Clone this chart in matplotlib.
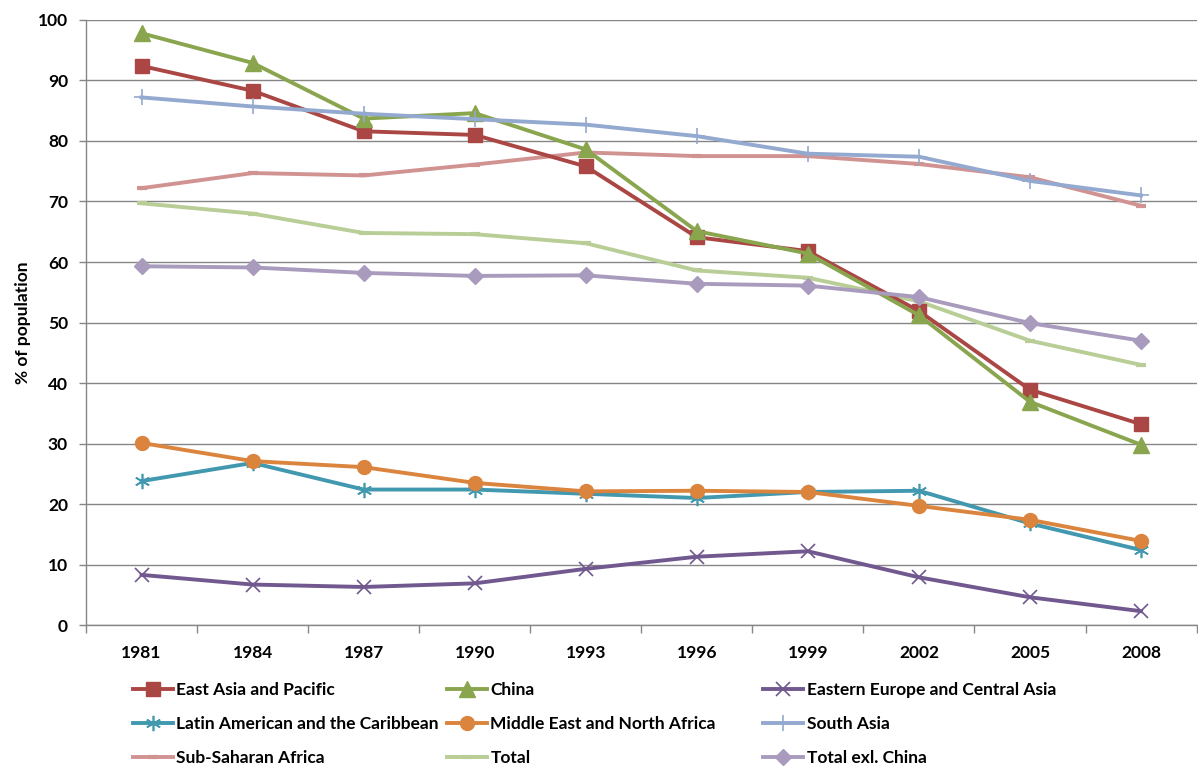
import matplotlib.pyplot as plt

plt.rcParams['font.family'] = ['Lato', 'DejaVu Sans']
plt.rcParams['font.weight'] = 'bold'

years = ['1981', '1984', '1987', '1990', '1993', '1996', '1999', '2002', '2005', '2008']

east_asia = [92.4, 88.3, 81.6, 81.0, 75.8, 64.1, 61.8, 51.9, 38.9, 33.2]
china = [97.8, 92.9, 83.7, 84.6, 78.6, 65.1, 61.4, 51.2, 36.9, 29.8]
eastern_europe = [8.3, 6.7, 6.3, 6.9, 9.3, 11.3, 12.2, 7.9, 4.6, 2.3]
latin_america = [23.8, 26.8, 22.4, 22.4, 21.7, 21.0, 22.0, 22.2, 16.8, 12.4]
middle_east = [30.1, 27.1, 26.1, 23.5, 22.1, 22.2, 22.0, 19.7, 17.4, 13.9]
south_asia = [87.2, 85.7, 84.5, 83.6, 82.7, 80.8, 77.9, 77.4, 73.4, 71.0]
sub_saharan = [72.2, 74.7, 74.3, 76.1, 78.1, 77.5, 77.5, 76.2, 74.0, 69.3]
total = [69.7, 68.0, 64.8, 64.6, 63.1, 58.6, 57.4, 53.5, 47.0, 43.0]
total_ex_china = [59.3, 59.1, 58.2, 57.7, 57.8, 56.4, 56.1, 54.2, 49.9, 47.0]

fig = plt.figure(figsize=(11.98, 7.67), dpi=100)
ax = fig.add_axes([0.0718, 0.185, 0.927, 0.789])

x = list(range(len(years)))
lw = 2.8

ax.plot(x, east_asia, color='#AA4643', lw=lw, marker='s', ms=10, label='East Asia and Pacific', zorder=5)
ax.plot(x, china, color='#89A54E', lw=lw, marker='^', ms=11, label='China', zorder=5)
ax.plot(x, eastern_europe, color='#71588F', lw=lw, marker='x', ms=10, mew=1.2, label='Eastern Europe and Central Asia', zorder=5)
ax.plot(x, latin_america, color='#4198AF', lw=lw, marker=(6, 2, 0), ms=11, mew=1.2, label='Latin American and the Caribbean', zorder=5)
ax.plot(x, middle_east, color='#DB843D', lw=lw, marker='o', ms=10, label='Middle East and North Africa', zorder=5)
ax.plot(x, south_asia, color='#93A9CF', lw=lw, marker='+', ms=12, mew=1.2, label='South Asia', zorder=5)
ax.plot(x, sub_saharan, color='#D19392', lw=lw, marker='_', ms=7, mew=3, label='Sub-Saharan Africa', zorder=4)
ax.plot(x, total, color='#B9CD96', lw=lw, marker='_', ms=7, mew=3, label='Total', zorder=4)
ax.plot(x, total_ex_china, color='#A99BBD', lw=lw, marker='D', ms=8, label='Total exl. China', zorder=5)

ax.set_xlim(-0.5, len(years) - 0.5)
ax.set_ylim(0, 100)
ax.set_yticks(range(0, 101, 10))
ax.set_xticks(x)
ax.set_xticklabels(years)
ax.set_xticks([i - 0.5 for i in range(len(years) + 1)], minor=True)
ax.tick_params(axis='x', which='major', length=0, pad=14, labelsize=12.5)
ax.tick_params(axis='x', which='minor', length=6, color='#868686', width=1)
ax.tick_params(axis='y', length=5, color='#868686', width=1, labelsize=12.5, pad=8)

ax.grid(axis='y', color='#868686', lw=1)
ax.set_axisbelow(True)
for s in ['top', 'right']:
    ax.spines[s].set_visible(False)
for s in ['left', 'bottom']:
    ax.spines[s].set_color('#868686')
    ax.spines[s].set_linewidth(1)

ax.set_ylabel('% of population', fontsize=12.5, fontweight='bold', labelpad=5)

# legend laid out row by row in three equal-width columns
handles, labels = ax.get_legend_handles_labels()
col_x = [0.111, 0.373, 0.637]
for c in range(3):
    idx = [c, c + 3, c + 6]
    fig.legend([handles[i] for i in idx], [labels[i] for i in idx],
               loc='upper left', bbox_to_anchor=(col_x[c], 0.111), frameon=False,
               fontsize=12.5, handlelength=2.3, handletextpad=0.2,
               labelspacing=1.05, borderaxespad=0, borderpad=0)

plt.savefig('out.png', dpi=100)
